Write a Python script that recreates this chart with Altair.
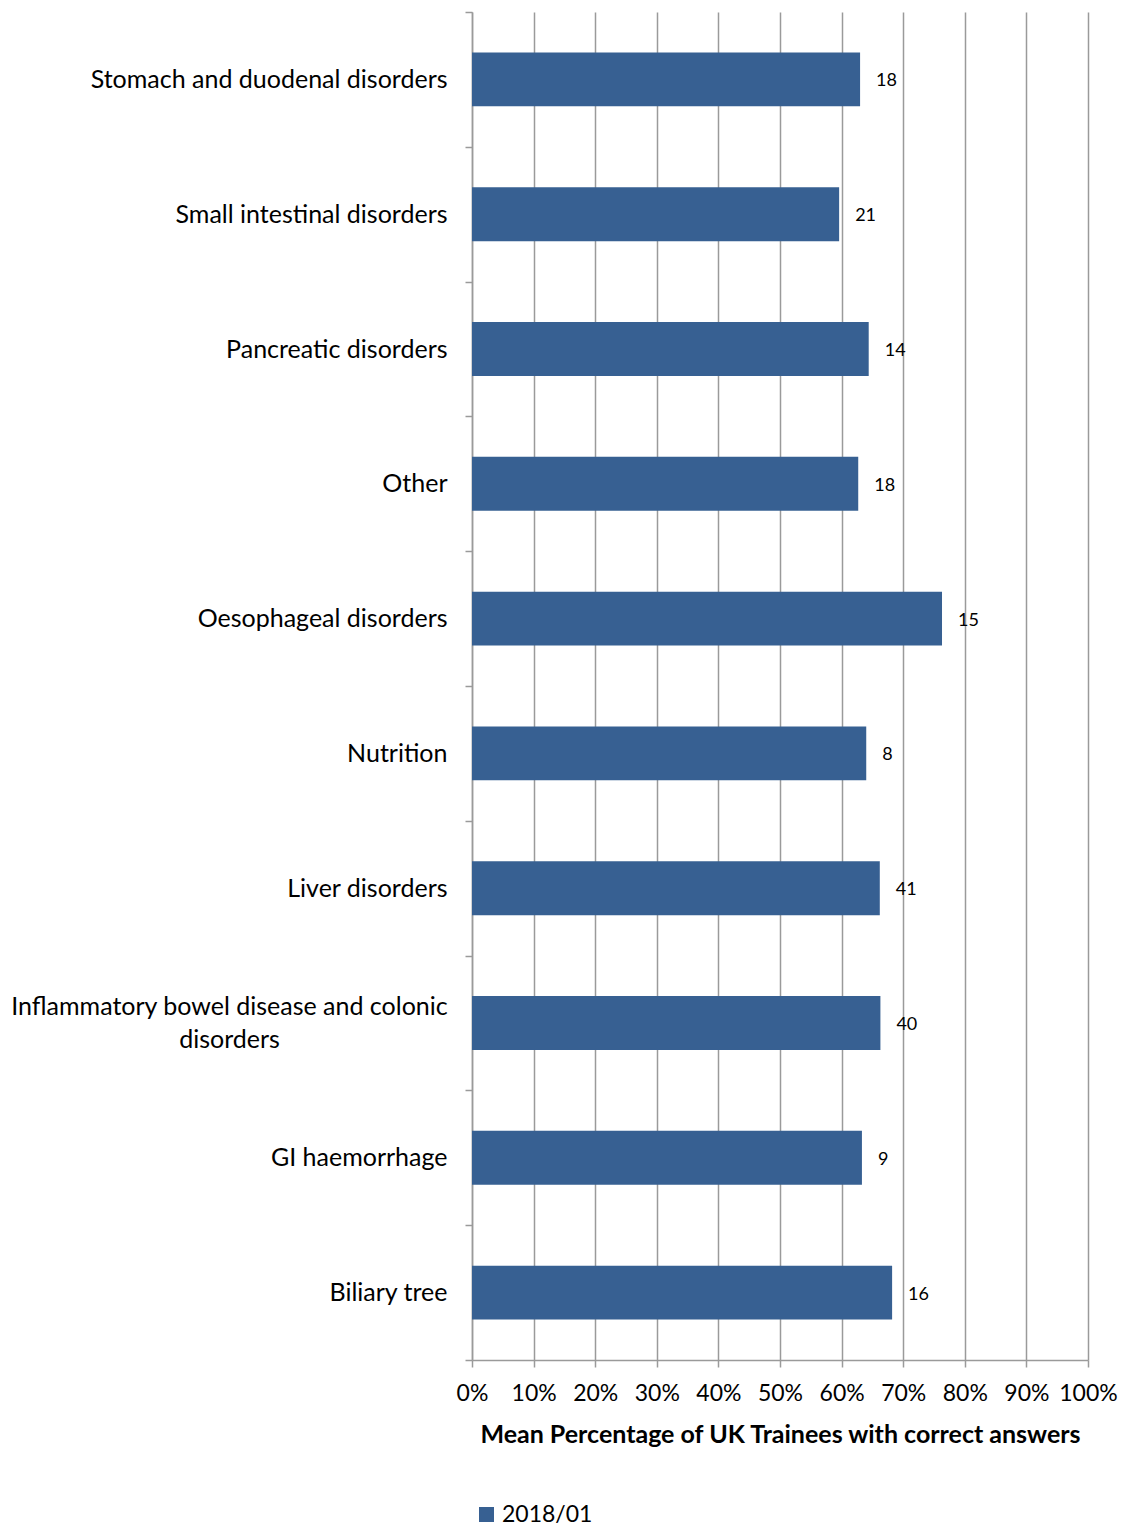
import altair as alt
import pandas as pd

categories = [
    "Stomach and duodenal disorders",
    "Small intestinal disorders",
    "Pancreatic disorders",
    "Other",
    "Oesophageal disorders",
    "Nutrition",
    "Liver disorders",
    "Inflammatory bowel disease and colonic disorders",
    "GI haemorrhage",
    "Biliary tree",
]
pct = [63.0, 59.6, 64.4, 62.7, 76.3, 64.0, 66.2, 66.3, 63.3, 68.2]
counts = [18, 21, 14, 18, 15, 8, 41, 40, 9, 16]
series = "2018/01"
tick_values = [0.0, 0.1, 0.2, 0.3, 0.4, 0.5, 0.6, 0.7, 0.8, 0.9, 1.0]

df = pd.DataFrame({
    "cat": categories,
    "pct": [p / 100 for p in pct],
    "n": counts,
    "series": [series] * len(categories),
})

FONT = "Lato"
GRAY = "#9a9a9a"
BAR = "#376092"
LONG = "Inflammatory bowel disease and colonic disorders"
is_long = f"datum.value == '{LONG}'"

label_expr = (
    f"datum.label == '{LONG}' ? "
    "['Inflammatory bowel disease and colonic', 'disorders'] : datum.label"
)

y = alt.Y(
    "cat:N",
    sort=categories,
    title=None,
    scale=alt.Scale(paddingInner=0, paddingOuter=0),
    axis=alt.Axis(
        tickBand="extent", tickSize=7, tickColor=GRAY, tickWidth=1.5,
        domainColor=GRAY, domainWidth=1.5,
        labelFont=FONT, labelFontSize=25, labelColor="black",
        labelPadding={"condition": {"test": is_long, "value": 236}, "value": 18},
        labelAlign={"condition": {"test": is_long, "value": "center"}, "value": "right"},
        labelOffset={"condition": {"test": is_long, "value": -17}, "value": 0},
        labelLimit=600, labelExpr=label_expr,
        labelLineHeight=33, grid=False,
    ),
)
x = alt.X(
    "pct:Q",
    scale=alt.Scale(domain=[0, 1], nice=False),
    title="Mean Percentage of UK Trainees with correct answers",
    axis=alt.Axis(
        values=tick_values, format=".0%", grid=True, gridColor=GRAY,
        gridWidth=1.5, domainColor=GRAY, domainWidth=1.5, tickColor=GRAY,
        tickWidth=1.5, tickSize=7, labelFont=FONT, labelFontSize=23,
        labelColor="black", labelPadding=15, labelFlush=False,
        titleFont=FONT, titleFontSize=25, titleFontWeight="bold",
        titleColor="black", titlePadding=17,
    ),
)

bars = alt.Chart(df).mark_bar(height=alt.RelativeBandSize(0.4)).encode(
    x=x,
    y=y,
    color=alt.Color(
        "series:N",
        scale=alt.Scale(range=[BAR]),
        legend=alt.Legend(
            title=None, orient="none", legendX=3, legendY=1491,
            symbolType="square", symbolSize=225, symbolStrokeWidth=0,
            labelFont=FONT, labelFontSize=23, labelColor="black",
            direction="horizontal",
        ),
    ),
)

text = alt.Chart(df).mark_text(
    align="left", baseline="middle", dx=16, dy=2, font=FONT, fontSize=18, color="black"
).encode(x="pct:Q", y=alt.Y("cat:N", sort=categories), text="n:Q")

chart = (bars + text).properties(
    width=616,
    height=1348,
    autosize=alt.AutoSizeParams(type="none"),
    padding={"left": 464, "top": 4, "right": 30, "bottom": 170},
).configure_view(stroke=None)

chart.save("out.html", embed_options={"renderer": "svg", "actions": False})
